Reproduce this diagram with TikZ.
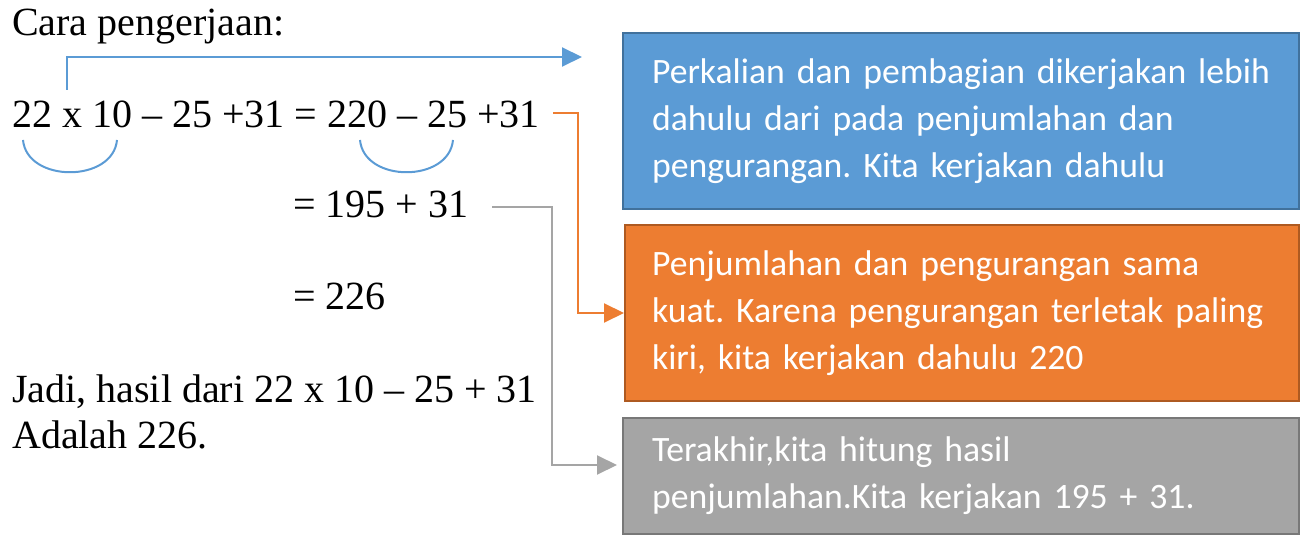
\documentclass[tikz,border=0pt]{standalone}
\usepackage{fontspec}
\setmainfont{Liberation Serif}
\newfontfamily\boxfont{Carlito}
\usetikzlibrary{arrows.meta}
\definecolor{oblue}{HTML}{5B9BD5}
\definecolor{obluedk}{HTML}{41719C}
\definecolor{oorange}{HTML}{ED7D31}
\definecolor{oorangedk}{HTML}{AE5A21}
\definecolor{ogray}{HTML}{A5A5A5}
\definecolor{ograydk}{HTML}{787878}
\tikzset{
  maintext/.style={anchor=base west, inner sep=0pt, font=\fontsize{40}{46}\selectfont},
  infobox/.style={draw, line width=2pt, anchor=north west, inner sep=0pt, align=left,
    text=white, font=\boxfont\fontsize{35.7}{47}\selectfont\frenchspacing},
  conn/.style={line width=2pt, -{Triangle[length=20pt,width=19pt]}},
  brace/.style={line width=2pt, draw=oblue},
}
\newcommand{\bxline}[1]{\mbox{#1}}
\begin{document}
\begin{tikzpicture}[x=1pt,y=-1pt]
\useasboundingbox (0,0) rectangle (1304,545);
% left texts
\node[maintext] (title) at (12,36) {Cara pengerjaan:};
\node[maintext] (l1) at (12,128) {22 x 10 – 25 +31 = 220 – 25 +31};
\node[maintext] (l2) at (293,218) {= 195 + 31};
\node[maintext] (l3) at (293,310) {= 226};
\node[maintext] (l4) at (12,402) {Jadi, hasil dari 22 x 10 – 25 + 31};
\node[maintext] (l5) at (12,448) {Adalah 226.};
% boxes
\node[infobox, fill=oblue, draw=obluedk, minimum width=676pt, minimum height=176pt, text width=618pt]
  (blue) at (622,32) {\bxline{Perkalian dan pembagian dikerjakan lebih}\\\bxline{dahulu dari pada penjumlahan dan}\\\bxline{pengurangan. Kita kerjakan dahulu}};
\node[infobox, fill=oorange, draw=oorangedk, minimum width=674pt, minimum height=176pt, text width=620pt]
  (orange) at (624,224) {\bxline{Penjumlahan dan pengurangan sama}\\\bxline{kuat. Karena pengurangan terletak paling}\\\bxline{kiri, kita kerjakan dahulu 220}};
\node[infobox, fill=ogray, draw=ograydk, minimum width=676pt, minimum height=116pt, text width=618pt]
  (gray) at (622,417) {\bxline{Terakhir,kita hitung hasil}\\\bxline{penjumlahan.Kita kerjakan 195 + 31.}};
% braces under operations
\draw[brace] (23,140) .. controls (27,183) and (113,183) .. (117,140);
\draw[brace] (360,140) .. controls (364,183) and (449,183) .. (453,140);
% connectors
\coordinate (b0) at (67,90);
\coordinate (b1) at (582,57);
\coordinate (o0) at (553,113);
\coordinate (g0) at (492,207);
\coordinate (g1) at (617,465);
\draw[conn, draw=oblue] (b0) |- (b1);
\draw[conn, draw=oorange] (o0) -- ++(25,0) |- (orange.west);
\draw[conn, draw=ogray] (g0) -- ++(60,0) |- (g1);
\end{tikzpicture}
\end{document}
